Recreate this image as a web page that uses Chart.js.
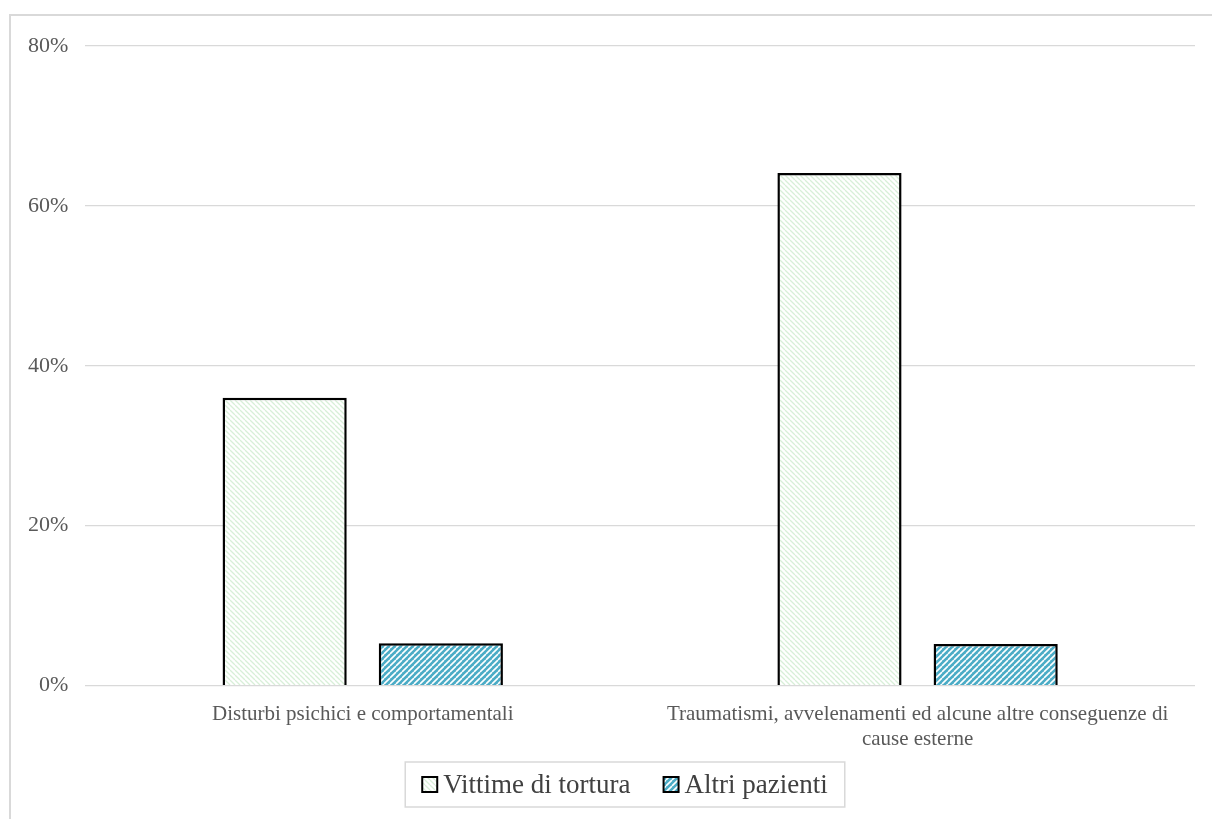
<!DOCTYPE html>
<html>
<head>
<meta charset="utf-8">
<script src="https://cdn.jsdelivr.net/npm/chart.js@4.4.0/dist/chart.umd.min.js"></script>
<style>
  body { margin: 0; background: #fff; }
  #wrap { width: 1212px; height: 819px; position: relative; }
</style>
</head>
<body>
<div id="wrap"><canvas id="chart" width="1212" height="819"></canvas></div>
<script>
// values (percent)
const categories = [
  "Disturbi psichici e comportamentali",
  ["Traumatismi, avvelenamenti ed alcune altre conseguenze di", "cause esterne"],
];
const seriesNames = ["Vittime di tortura", "Altri pazienti"];
const vittime = [36, 64.1];
const altri = [5.3, 5.2];
const yTicks = [0, 20, 40, 60, 80];

// hatch patterns like the office chart fills
function makePattern(bg, fg, dir, size, lw) {
  const c = document.createElement("canvas");
  c.width = size;
  c.height = size;
  const x = c.getContext("2d");
  x.fillStyle = bg;
  x.fillRect(0, 0, size, size);
  x.strokeStyle = fg;
  x.lineWidth = lw;
  x.beginPath();
  for (let k = -1; k <= 1; k++) {
    if (dir > 0) {
      x.moveTo(k * size, size);
      x.lineTo(k * size + size, 0);
    } else {
      x.moveTo(k * size, 0);
      x.lineTo(k * size + size, size);
    }
  }
  x.stroke();
  return x.createPattern(c, "repeat");
}

const ctx = document.getElementById("chart").getContext("2d");
const greenHatch = makePattern("#ffffff", "#d8efd8", -1, 5, 1.3);
const blueHatch = makePattern("#4bacc6", "#ffffff", 1, 6, 1.6);

// outer frame + boxed legend like the office original
const frame = {
  id: "frame",
  beforeDraw(chart) {
    const c = chart.ctx;
    c.save();
    c.strokeStyle = "#d9d9d9";
    c.lineWidth = 2;
    c.strokeRect(10, 15, 1400, 1000);
    c.restore();
  },
  afterDraw(chart) {
    const c = chart.ctx;
    const font = '27px "Liberation Serif"';
    const box = 15, gap = 6, spacing = 33, pad = 17;
    c.save();
    c.font = font;
    const items = chart.data.datasets.map((ds) => ({
      text: ds.label,
      fill: ds.backgroundColor,
      w: c.measureText(ds.label).width,
    }));
    let total = pad * 2;
    items.forEach((it, i) => {
      total += box + gap + it.w + (i ? spacing : 0);
    });
    const cx = 625, cy = 784.5, h = 45;
    const left = cx - total / 2;
    c.strokeStyle = "#d9d9d9";
    c.lineWidth = 1.5;
    c.strokeRect(left, cy - h / 2, total, h);
    let x = left + pad;
    c.textBaseline = "middle";
    items.forEach((it, i) => {
      if (i) x += spacing;
      c.fillStyle = it.fill;
      c.fillRect(x, cy - box / 2, box, box);
      c.strokeStyle = "#000000";
      c.lineWidth = 2;
      c.strokeRect(x, cy - box / 2, box, box);
      x += box + gap;
      c.fillStyle = "#404040";
      c.fillText(it.text, x, cy + 1);
      x += it.w;
    });
    c.restore();
  },
};

new Chart(ctx, {
  type: "bar",
  data: {
    labels: categories,
    datasets: [
      {
        label: seriesNames[0],
        data: vittime,
        backgroundColor: greenHatch,
        borderColor: "#000000",
        borderWidth: 2.5,
      },
      {
        label: seriesNames[1],
        data: altri,
        backgroundColor: blueHatch,
        borderColor: "#000000",
        borderWidth: 2.5,
      },
    ],
  },
  options: {
    responsive: false,
    animation: false,
    categoryPercentage: 0.563,
    barPercentage: 0.795,
    layout: { padding: { left: 11, right: 17, top: 46, bottom: 59 } },
    scales: {
      x: {
        grid: { display: false },
        border: { display: false },
        ticks: {
          color: "#595959",
          font: { family: "Liberation Serif", size: 21, lineHeight: 1.2 },
          maxRotation: 0,
          padding: 8,
        },
      },
      y: {
        min: 0,
        max: 80,
        afterBuildTicks(axis) {
          axis.ticks = yTicks.map((v) => ({ value: v }));
        },
        grid: { color: "#d9d9d9", lineWidth: 1.3, drawTicks: false },
        border: { display: false },
        ticks: {
          color: "#595959",
          font: { family: "Liberation Serif", size: 22 },
          padding: 17,
          callback: (v) => v + "%",
        },
      },
    },
    plugins: {
      legend: { display: false },
      tooltip: { enabled: false },
    },
  },
  plugins: [frame],
});
</script>
</body>
</html>
